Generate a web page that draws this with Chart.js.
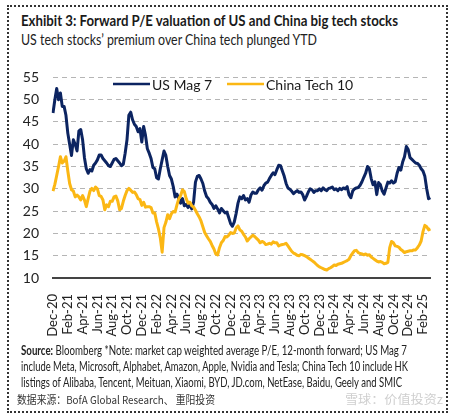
<!DOCTYPE html>
<html>
<head>
<meta charset="utf-8">
<script src="https://cdn.jsdelivr.net/npm/chart.js@4.4.1/dist/chart.umd.min.js"></script>
<style>
  html, body { margin: 0; padding: 0; background: #fff; }
  #wrap { position: relative; width: 454px; height: 419px; overflow: hidden; background: #fff; }
  #frame { position: absolute; left: 7px; top: 5px; width: 437px; height: 404px; border: 2px dotted #333; }
  .t { position: absolute; white-space: nowrap; color: #1a1a1a; font-family: "Lato", sans-serif; transform-origin: 0 0; }
  #title { left: 21px; top: 12px; font-size: 14.5px; font-weight: bold; }
  #subtitle { left: 21px; top: 31px; font-size: 14.5px; color: #222; }
  .f { left: 21px; font-size: 12.5px; color: #222; }
  #f1 { top: 343px; } #f2 { top: 359px; } #f3 { top: 375px; }
  #cn { left: 17px; top: 391px; font-size: 11px; color: #333; font-family: "Noto Sans CJK SC", sans-serif; }
  #wm { left: 345px; top: 390px; font-size: 12px; color: #cfcfcf; font-family: "Noto Sans CJK SC", sans-serif; }
  canvas { position: absolute; left: 0; top: 55px; }
</style>
</head>
<body>
<div id="wrap">
  <div id="frame"></div>
  <div class="t" id="title" data-w="377">Exhibit 3: Forward P/E valuation of US and China big tech stocks</div>
  <div class="t" id="subtitle" data-w="296">US tech stocks’ premium over China tech plunged YTD</div>
  <canvas id="c" width="454" height="290"></canvas>
  <div class="t f" id="f1" data-w="386"><b>Source:</b> Bloomberg *Note: market cap weighted average P/E, 12-month forward; US Mag 7</div>
  <div class="t f" id="f2" data-w="387">include Meta, Microsoft, Alphabet, Amazon, Apple, Nvidia and Tesla; China Tech 10 include HK</div>
  <div class="t f" id="f3" data-w="381">listings of Alibaba, Tencent, Meituan, Xiaomi, BYD, JD.com, NetEase, Baidu, Geely and SMIC</div>
  <div class="t" id="cn" data-w="198">数据来源：BofA Global Research、 重阳投资</div>
  <div class="t" id="wm" data-w="98">雪球：价值投资z</div>
</div>
<script>
// Tick labels shown on the x axis (every 2 months)
const tickLabels = ["Dec-20","Feb-21","Apr-21","Jun-21","Aug-21","Oct-21","Dec-21","Feb-22","Apr-22","Jun-22","Aug-22","Oct-22","Dec-22","Feb-23","Apr-23","Jun-23","Aug-23","Oct-23","Dec-23","Feb-24","Apr-24","Jun-24","Aug-24","Oct-24","Dec-24","Feb-25"];
const monthNames = ["Jan","Feb","Mar","Apr","May","Jun","Jul","Aug","Sep","Oct","Nov","Dec"];

// Weekly-ish observations (4 per month) from Dec-2020 to Mar-2025
const usMag7 = [
  47, 50, 52.5, 50,      51.5, 48.5, 48.5, 46.5,  42.5, 40, 37.5, 41,     40, 38.5, 43, 43.3,
  41, 37, 34.5, 33.5,    34.3, 34, 35.3, 35.8,    36.5, 37.6, 37.6, 36.8,  36.3, 35.8, 35.2, 35,
  35.8, 36.6, 36.8, 36.3, 35.8, 35.2, 35.5, 38,   41, 46.5, 47.2, 45.5,    44.5, 44, 42.8, 43.5,
  40.5, 44, 42, 39,      38, 36.8, 34.8, 34.5,    32.5, 32.2, 34.5, 36.5,  38.5, 37.5, 35, 33,
  32.2, 30.5, 28.2, 28.8, 27.8, 26.8, 27.8, 26.2, 26.5, 25.8, 26.5, 25.5,  27, 31.5, 32.8, 33,
  32.2, 31.2, 29.5, 28.3, 27.8, 27, 26.5, 25.6,   26.2, 25.5, 24.6, 25.6,  25.1, 24.6, 24.8, 23.5,
  22.2, 21.6, 22.6, 24.5, 26.8, 28.2, 27.8, 28.5, 27.5, 27.8, 27, 28.6,    29.3, 29, 29, 29.8,
  30.2, 29.7, 30.7, 31.3, 31.5, 32.3, 33, 33.6,   33.2, 34.3, 35.3, 35.2,  34, 32.8, 31.2, 30.2,
  29.9, 29.5, 28.9, 29.3, 29.6, 29.2, 29.3, 28.7, 27.5, 28.3, 29.3, 30,    29.8, 29.2, 29.6, 29.6,
  30, 29.6, 30.2, 29.8,  29.6, 30.1, 30.2, 30.4,  29.8, 30, 29.6, 30.1,    29.8, 30.2, 30, 30.5,
  28.7, 28, 29.5, 30,    30.2, 30.3, 30.8, 31.6,  32.6, 33.5, 35, 34.5,    32.3, 30.9, 31.6, 28.7,
  31.4, 30.9, 29.5, 28.8, 30.2, 31.5, 31.3, 31.8, 31.3, 31.6, 33.5, 34.8,  34.2, 36, 37.2, 39.5,
  38.8, 37, 36.6, 36.2,  35.8, 35.7, 35.3, 34.5,  34, 32.8, 30, 27.8,      28
];
const chinaTech10 = [
  29.5, 31, 33, 35,      37.2, 35.8, 36.2, 37.2,  34, 31.2, 29.8, 29.5,    28.2, 28.6, 28.2, 27.5,
  28.5, 27.5, 26, 27.8,  29.5, 30.1, 29.6, 30.4,  30, 28.5, 28.3, 27.5,    25.3, 26.4, 26, 27.2,
  27.2, 28.2, 28.4, 27.3, 25.3, 25.6, 27.2, 28.5, 29.6, 30.1, 29.7, 29.2,  29.3, 28.7, 27.8, 27.6,
  26.3, 27, 25.9, 26,    26, 25.8, 24.6, 24.6,    22.6, 21, 19, 15.8,      21.3, 22.5, 24.2, 23.3,
  24.4, 24.9, 24.8, 26.4, 27.8, 28.5, 29.8, 29.4, 27.8, 26.8, 27, 26.2,    25.9, 25.2, 24.4, 23.7,
  22.8, 21.5, 20.2, 19.5, 18.8, 18.2, 17.3, 16.5, 15.4, 15.2, 16.8, 17.9,  18.4, 19.3, 19.2, 19.6,
  20.2, 20, 20.1, 21.2,  21.7, 20.8, 20.5, 19.8,  19.2, 18.3, 18.8, 19.2,  19.6, 19.3, 18.9, 18.5,
  17.9, 18.2, 18, 17.5,  17.6, 17.8, 17.6, 18.1,  17.9, 17.9, 17.2, 17.4,  17.5, 17.6, 17.8, 17.2,
  16.6, 16, 15.6, 15.4,  15.1, 15, 15.3, 15.2,    15, 14.8, 14.5, 14.2,    13.9, 13.6, 13.2, 12.8,
  12.5, 12.3, 12.1, 11.9, 11.8, 12.1, 12.3, 12.6, 12.9, 12.8, 13.1, 13.2,  13.3, 13.5, 13.7, 13.9,
  14.2, 15, 15.6, 16.1,  16.2, 15.7, 15.5, 15.4,  15.2, 15.4, 15.1, 15.2,  14.7, 14.4, 14.1, 13.8,
  13.6, 13.7, 13.5, 13.2, 13.3, 13.5, 16.8, 18.2, 17.9, 17.2, 17.1, 16.9,  16.4, 16.1, 15.7, 15.9,
  16, 16.1, 16.1, 16.3,  16.3, 16.8, 17.4, 18.3,  20.4, 21.8, 21.5, 20.8,  21
];

// Category labels: four observation dates per month
const periods = [];
for (let i = 0; i < usMag7.length; i++) {
  const mi = 11 + Math.floor(i / 4);
  periods.push(monthNames[mi % 12] + "-" + String(20 + Math.floor(mi / 12)) + " w" + (i % 4 + 1));
}

// condense the text blocks to the reference widths
document.querySelectorAll("[data-w]").forEach(el => {
  const w = el.getBoundingClientRect().width;
  el.style.transform = "scaleX(" + (parseFloat(el.dataset.w) / w) + ")";
});

const NAVY = "#0c2461";
const GOLD = "#fbb714";
const FONT = "Lato, sans-serif";

// legend drawn inside the plot area
const inlineLegend = {
  id: "inlineLegend",
  afterDraw(chart, args, opts) {
    const ctx = chart.ctx;
    ctx.save();
    ctx.font = "14px " + FONT;
    ctx.textBaseline = "middle";
    ctx.fillStyle = "#1a1a1a";
    chart.data.datasets.forEach((ds, i) => {
      const x = opts.xs[i], y = opts.y;
      ctx.strokeStyle = ds.borderColor;
      ctx.lineWidth = 2.5;
      ctx.beginPath();
      ctx.moveTo(x, y);
      ctx.lineTo(x + opts.lineLen, y);
      ctx.stroke();
      ctx.fillText(ds.label, x + opts.lineLen + 2, y + 1);
    });
    ctx.restore();
  }
};

new Chart(document.getElementById("c"), {
  type: "line",
  data: {
    labels: periods,
    datasets: [
      { label: "US Mag 7", data: usMag7, borderColor: NAVY, backgroundColor: NAVY, borderWidth: 3, pointRadius: 0, tension: 0, borderJoinStyle: "round", order: 1 },
      { label: "China Tech 10", data: chinaTech10, borderColor: GOLD, backgroundColor: GOLD, borderWidth: 3, pointRadius: 0, tension: 0, borderJoinStyle: "round", order: 0 }
    ]
  },
  plugins: [inlineLegend],
  options: {
    responsive: false,
    animation: false,
    devicePixelRatio: 1,
    layout: { padding: { left: 0, right: 19, top: 15, bottom: 0 } },
    plugins: {
      tooltip: { enabled: false },
      legend: { display: false },
      inlineLegend: { xs: [113, 227], y: 29, lineLen: 37 }
    },
    scales: {
      x: {
        type: "category",
        grid: { display: false },
        border: { display: true, color: "#444", width: 2 },
        ticks: {
          autoSkip: false,
          maxRotation: 90,
          minRotation: 90,
          padding: 8,
          color: "#222",
          font: { family: FONT, size: 13 },
          callback: (v, i) => (i % 8 === 0 ? tickLabels[i / 8] : "")
        },
        afterFit: (s) => { s.height = 67; }
      },
      y: {
        min: 10,
        max: 55,
        grid: {
          color: (ctx) => (ctx.tick && ctx.tick.value === 10 ? "rgba(0,0,0,0)" : "#b5b5b5"),
          lineWidth: 1,
          drawTicks: false
        },
        border: { display: false, dash: [5, 4] },
        ticks: {
          stepSize: 5,
          padding: 14,
          color: "#222",
          font: { family: FONT, size: 14 }
        },
        afterFit: (s) => { s.width = 53; }
      }
    }
  }
});
</script>
</body>
</html>
